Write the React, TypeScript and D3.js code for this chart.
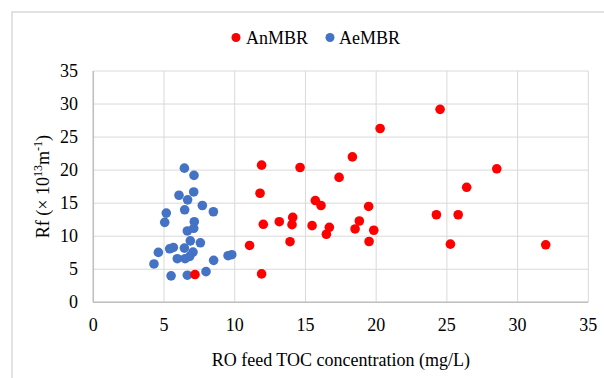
import React from "react";
import * as d3 from "d3";

const seriesNames = ["AnMBR", "AeMBR"];
const seriesColors = ["#FF0000", "#4472C4"];

const aeX = [6.44, 7.12, 6.06, 7.1, 6.67, 7.71, 8.49, 6.46, 5.16, 5.05, 7.14, 7.1, 6.65, 6.86, 7.57, 5.66, 5.4, 6.44, 7.05, 4.6, 6.82, 5.94, 6.49, 8.51, 9.53, 9.79, 4.29, 7.97, 5.5, 6.65];
const aeY = [20.3, 19.2, 16.2, 16.7, 15.5, 14.65, 13.7, 14.0, 13.5, 12.1, 12.2, 11.2, 10.8, 9.3, 9.0, 8.3, 8.1, 8.2, 7.6, 7.55, 6.95, 6.6, 6.6, 6.35, 7.05, 7.2, 5.8, 4.64, 4.0, 4.1];

const anX = [7.19, 11.9, 11.79, 12.02, 11.05, 11.9, 14.62, 13.15, 14.1, 14.05, 13.91, 15.7, 16.1, 15.47, 16.69, 16.48, 17.38, 18.32, 19.47, 18.81, 18.51, 19.83, 19.5, 20.28, 24.52, 28.53, 26.4, 24.26, 25.8, 25.25, 31.99];
const anY = [4.2, 20.75, 16.5, 11.8, 8.6, 4.3, 20.4, 12.2, 12.85, 11.75, 9.17, 15.4, 14.65, 11.6, 11.35, 10.3, 18.9, 22.0, 14.5, 12.3, 11.1, 10.9, 9.2, 26.3, 29.2, 20.2, 17.4, 13.25, 13.25, 8.8, 8.7];

const xTicks = [0, 5, 10, 15, 20, 25, 30, 35];
const yTicks = [0, 5, 10, 15, 20, 25, 30, 35];

const xTitle = "RO feed TOC concentration (mg/L)";

export default function App() {
  const W = 604, H = 378;
  const x = d3.scaleLinear().domain([0, 35]).range([93.3, 588.3]);
  const y = d3.scaleLinear().domain([0, 35]).range([302.3, 71]);
  const font = "'Liberation Serif', 'Times New Roman', serif";
  const ae = aeX.map((v, i) => [v, aeY[i]]);
  const an = anX.map((v, i) => [v, anY[i]]);
  const r = 4.8;
  return (
    <div style={{ position: "fixed", left: 0, top: 0 }}>
      <svg width={W} height={H} style={{ display: "block" }} fontFamily={font}>
        <rect x={0} y={0} width={W} height={H} fill="#fff" />
        <rect x={12} y={12} width={800} height={600} fill="#fff" stroke="#d9d9d9" strokeWidth={1.5} />
        {/* gridlines */}
        {yTicks.map((t) => (
          <line key={"gy" + t} x1={x(0)} x2={x(35)} y1={y(t)} y2={y(t)} stroke="#d9d9d9" strokeWidth={1} />
        ))}
        {xTicks.map((t) => (
          <line key={"gx" + t} x1={x(t)} x2={x(t)} y1={y(0)} y2={y(35)} stroke="#d9d9d9" strokeWidth={1} />
        ))}
        {/* axes */}
        <line x1={x(0)} x2={x(0)} y1={y(0)} y2={y(35)} stroke="#bfbfbf" strokeWidth={1.5} />
        <line x1={x(0)} x2={x(35)} y1={y(0)} y2={y(0)} stroke="#bfbfbf" strokeWidth={1.5} />
        {/* tick labels */}
        {yTicks.map((t) => (
          <text key={"ty" + t} x={78} y={y(t) + 6} textAnchor="end" fontSize={18} fill="#000">{t}</text>
        ))}
        {xTicks.map((t) => (
          <text key={"tx" + t} x={x(t)} y={331} textAnchor="middle" fontSize={18} fill="#000">{t}</text>
        ))}
        {/* axis titles */}
        <text x={x(17.5)} y={366} textAnchor="middle" fontSize={18} fill="#000">{xTitle}</text>
        <text transform={`translate(49, ${(y(0) + y(35)) / 2}) rotate(-90)`} textAnchor="middle" fontSize={18} fill="#000">
          Rf (× 10<tspan fontSize={12} dy={-7}>13</tspan><tspan dy={7}>m</tspan><tspan fontSize={12} dy={-7}>-1</tspan><tspan dy={7}>)</tspan>
        </text>
        {/* points */}
        {ae.map((d, i) => (
          <circle key={"ae" + i} cx={x(d[0])} cy={y(d[1])} r={r} fill={seriesColors[1]} />
        ))}
        {an.map((d, i) => (
          <circle key={"an" + i} cx={x(d[0])} cy={y(d[1])} r={r} fill={seriesColors[0]} />
        ))}
        {/* legend */}
        <circle cx={236} cy={37.5} r={4.5} fill={seriesColors[0]} />
        <text x={246} y={43.5} fontSize={18} fill="#000">{seriesNames[0]}</text>
        <circle cx={330} cy={37.5} r={4.5} fill={seriesColors[1]} />
        <text x={339} y={43.5} fontSize={18} fill="#000">{seriesNames[1]}</text>
      </svg>
    </div>
  );
}
